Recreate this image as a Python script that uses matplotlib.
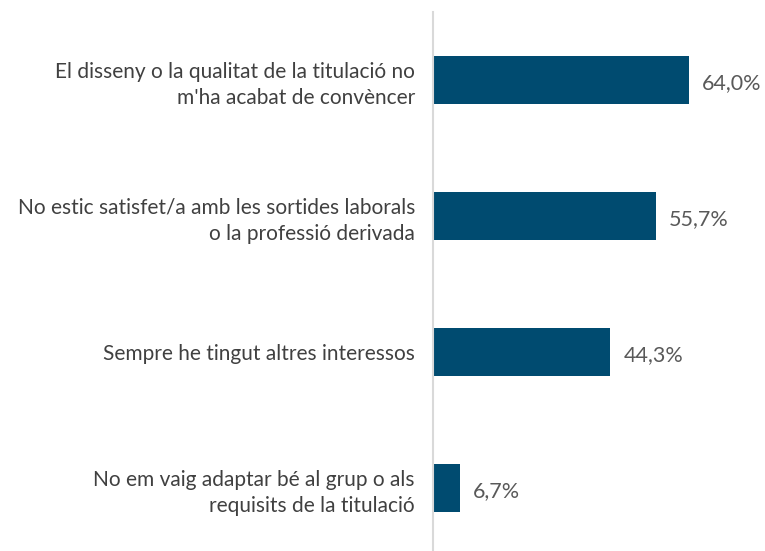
import matplotlib.pyplot as plt

labels = [
    "El disseny o la qualitat de la titulació no\nm'ha acabat de convèncer",
    "No estic satisfet/a amb les sortides laborals\no la professió derivada",
    "Sempre he tingut altres interessos",
    "No em vaig adaptar bé al grup o als\nrequisits de la titulació",
]
values = [64.0, 55.7, 44.3, 6.7]
value_labels = ["64,0%", "55,7%", "44,3%", "6,7%"]

plt.rcParams['font.family'] = ['Lato', 'DejaVu Sans']

fig = plt.figure(figsize=(7.65, 5.51), dpi=100)
ax = fig.add_axes([433 / 765, -5 / 551, 320 / 765, 544 / 551])

pos = list(range(len(values)))
ax.barh(pos, values, height=0.353, color='#004b70')
ax.set_xlim(0, 80)
ax.set_ylim(3.5, -0.5)

for p, v, t in zip(pos, values, value_labels):
    ax.text(v + 3.3, p + 0.02, t, va='center', ha='left',
            fontsize=15.5, color='#595959')

ax.set_yticks(pos)
ax.set_yticklabels(labels, fontsize=15, color='#404040', linespacing=1.35)
ax.tick_params(axis='y', length=0, pad=13)
ax.set_xticks([])
for s in ['top', 'right', 'bottom']:
    ax.spines[s].set_visible(False)
ax.spines['left'].set_color('#d9d9d9')
ax.spines['left'].set_linewidth(1.5)

fig.savefig('out.png', dpi=100)
